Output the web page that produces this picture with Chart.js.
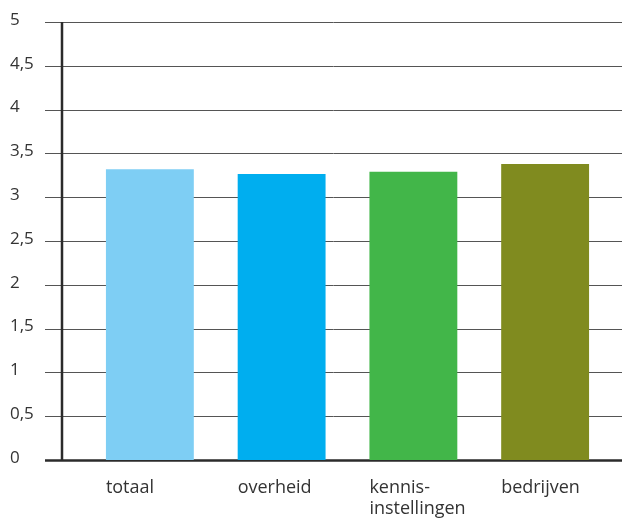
<!DOCTYPE html>
<html>
<head>
<meta charset="utf-8">
<script src="https://cdn.jsdelivr.net/npm/chart.js@4/dist/chart.umd.min.js"></script>
<style>
  html, body { margin: 0; padding: 0; background: #fff; }
  #wrap { width: 622px; height: 518px; }
</style>
</head>
<body>
<div id="wrap"><canvas id="chart"></canvas></div>
<script>
const categories = ["totaal", "overheid", ["kennis-", "instellingen"], "bedrijven"];
const scores = [3.32, 3.265, 3.29, 3.38];
const barColors = ["#7ecef4", "#00aeef", "#42b649", "#808b1f"];
const yTicks = { min: 0, max: 5, step: 0.5 };

// grid and axis lines run wider than the plot area, so draw them from the y scale
const frameLines = {
  id: "frameLines",
  beforeDatasetsDraw(chart) {
    const ctx = chart.ctx;
    const y = chart.scales.y;
    const w = chart.width;
    ctx.save();
    y.ticks.forEach(t => {
      const py = Math.round(y.getPixelForValue(t.value)) + 0.5;
      ctx.beginPath();
      ctx.strokeStyle = t.value === 0 ? "#2b2b2b" : "#555";
      ctx.lineWidth = t.value === 0 ? 2.5 : 1;
      ctx.moveTo(45, py);
      ctx.lineTo(w, py);
      ctx.stroke();
    });
    ctx.beginPath();
    ctx.strokeStyle = "#2b2b2b";
    ctx.lineWidth = 2.5;
    ctx.moveTo(62, y.getPixelForValue(yTicks.max));
    ctx.lineTo(62, y.getPixelForValue(yTicks.min) + 1);
    ctx.stroke();
    ctx.restore();
  }
};

new Chart(document.getElementById("chart").getContext("2d"), {
  type: "bar",
  data: {
    labels: categories,
    datasets: [
      {
        data: scores,
        backgroundColor: barColors,
        borderWidth: 0,
        barPercentage: 1,
        categoryPercentage: 0.667
      }
    ]
  },
  options: {
    responsive: true,
    maintainAspectRatio: false,
    animation: false,
    layout: { padding: { top: 22, left: 10, right: 11, bottom: 0 } },
    plugins: { legend: { display: false }, tooltip: { enabled: false } },
    scales: {
      x: {
        grid: { display: false, drawTicks: false },
        border: { display: false },
        afterFit: s => { s.height = 58; s.paddingLeft = 0; s.paddingRight = 0; },
        ticks: {
          align: "start",
          labelOffset: -44,
          padding: 18,
          maxRotation: 0,
          autoSkip: false,
          color: "#333",
          font: { family: "Open Sans", size: 18, lineHeight: 1.15 }
        }
      },
      y: {
        min: yTicks.min,
        max: yTicks.max,
        grid: { display: false, drawTicks: false },
        border: { display: false },
        afterFit: s => { s.width = 74; s.paddingTop = 0; s.paddingBottom = 0; },
        ticks: {
          stepSize: yTicks.step,
          crossAlign: "far",
          labelOffset: -2,
          color: "#333",
          font: { family: "Open Sans", size: 17 },
          callback: v => String(v).replace(".", ",")
        }
      }
    }
  },
  plugins: [frameLines]
});
</script>
</body>
</html>
